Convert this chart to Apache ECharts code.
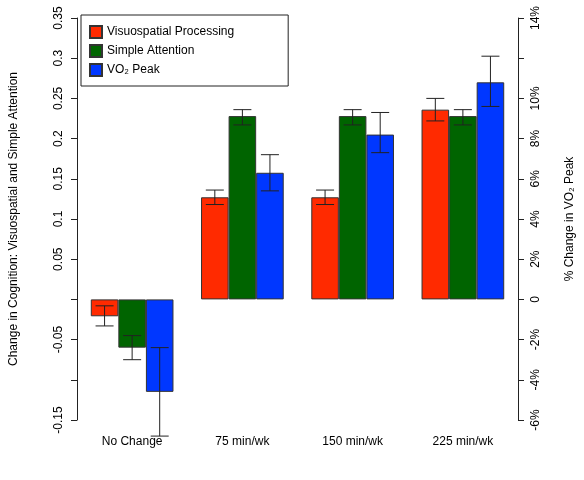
<!DOCTYPE html>
<html><head><meta charset="utf-8">
<script src="https://cdn.jsdelivr.net/npm/echarts@6/dist/echarts.min.js"></script>
<style>html,body{margin:0;padding:0;background:#fff}#c{width:584px;height:480px}</style>
</head><body><div id="c"></div>
<script>
const categories = ['No Change', '75 min/wk', '150 min/wk', '225 min/wk'];
const visuo = [-0.021, 0.127, 0.127, 0.236];
const visuoLo = [-0.033, 0.118, 0.118, 0.222];
const visuoHi = [-0.008, 0.136, 0.136, 0.250];
const attn = [-0.060, 0.228, 0.228, 0.228];
const attnLo = [-0.075, 0.217, 0.217, 0.217];
const attnHi = [-0.045, 0.236, 0.236, 0.236];
const vo2 = [-4.6, 6.3, 8.2, 10.8];
const vo2Lo = [-6.8, 5.4, 7.3, 9.6];
const vo2Hi = [-2.4, 7.2, 9.3, 12.1];
const leftTicks = ['0.35','0.3','0.25','0.2','0.15','0.1','0.05','-0.05','-0.15'];
const rightTicks = ['14%','10%','8%','6%','4%','2%','0','-2%','-4%','-6%'];

const font = 'Liberation Sans, Arial, sans-serif';
const chart = echarts.init(document.getElementById('c'));
function errSeries(idx, lo, hi, yAxisIndex) {
  return {
    type: 'custom', yAxisIndex, silent: true, z: 10,
    data: categories.map((c, i) => [i, lo[i], hi[i]]),
    clip: false,
    renderItem(params, api) {
      const i = api.value(0);
      const p0 = api.coord([i, api.value(1)]);
      const p1 = api.coord([i, api.value(2)]);
      const bw = api.size([1, 0])[0];
      const x = p0[0] + (idx - 1) * bw * 0.25;
      const cw = 9;
      const st = { stroke: '#222', lineWidth: 1 };
      return { type: 'group', children: [
        { type: 'line', shape: { x1: x, y1: p0[1], x2: x, y2: p1[1] }, style: st },
        { type: 'line', shape: { x1: x - cw, y1: p0[1], x2: x + cw, y2: p0[1] }, style: st },
        { type: 'line', shape: { x1: x - cw, y1: p1[1], x2: x + cw, y2: p1[1] }, style: st }
      ]};
    }
  };
}
const barStyle = c => ({ color: c, borderColor: '#333', borderWidth: 1 });
chart.setOption({
  animation: false,
  textStyle: { fontFamily: font },
  grid: { left: 73, right: 63, top: 18, bottom: 60 },
  legend: {
    orient: 'vertical', left: 81, top: 15, width: 190,
    borderColor: '#222', borderWidth: 1, borderRadius: 0,
    padding: [10, 54, 9, 8], itemGap: 5, itemWidth: 12, itemHeight: 12,
    icon: 'rect', textStyle: { fontSize: 12, color: '#000', fontFamily: font },
    data: ['Visuospatial Processing', 'Simple Attention', 'VO₂ Peak']
  },
  xAxis: {
    type: 'category', data: categories,
    axisLine: { show: false }, axisTick: { show: false },
    axisLabel: { fontSize: 12, color: '#000', margin: 16, fontFamily: font }
  },
  yAxis: [{
    type: 'value', min: -0.15, max: 0.35, interval: 0.05,
    name: 'Change in Cognition: Visuospatial and Simple Attention',
    nameLocation: 'middle', nameGap: 57, nameRotate: 90,
    nameTextStyle: { fontSize: 12, color: '#000' },
    splitLine: { show: false },
    axisLine: { show: true, lineStyle: { color: '#222' } },
    axisTick: { show: true, length: 6, lineStyle: { color: '#222' } },
    axisLabel: { rotate: 90, color: '#000', fontSize: 12, margin: 12,
      formatter: v => { const s = (Math.round(v * 100) / 100).toString(); return leftTicks.includes(s) ? s : ''; } }
  }, {
    type: 'value', min: -6, max: 14, interval: 2, position: 'right',
    name: '% Change in VO₂ Peak',
    nameLocation: 'middle', nameGap: 46, nameRotate: 90,
    nameTextStyle: { fontSize: 12, color: '#000' },
    splitLine: { show: false },
    axisLine: { show: true, lineStyle: { color: '#222' } },
    axisTick: { show: true, length: 6, lineStyle: { color: '#222' } },
    axisLabel: { rotate: 90, color: '#000', fontSize: 12, margin: 12,
      formatter: v => { const s = v === 0 ? '0' : Math.round(v) + '%'; return rightTicks.includes(s) ? s : ''; } }
  }],
  series: [
    { name: 'Visuospatial Processing', type: 'bar', data: visuo, barGap: '0%', barCategoryGap: '25%', itemStyle: barStyle('#ff2a00') },
    { name: 'Simple Attention', type: 'bar', data: attn, itemStyle: barStyle('#006400') },
    { name: 'VO₂ Peak', type: 'bar', yAxisIndex: 1, data: vo2, itemStyle: barStyle('#0037ff') },
    errSeries(0, visuoLo, visuoHi, 0),
    errSeries(1, attnLo, attnHi, 0),
    errSeries(2, vo2Lo, vo2Hi, 1)
  ]
});
</script></body></html>
